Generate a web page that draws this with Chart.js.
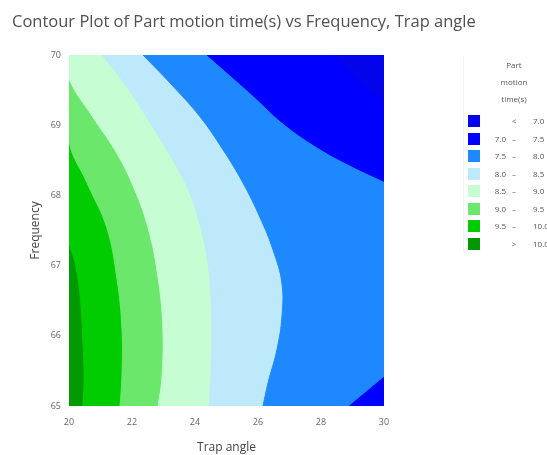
<!DOCTYPE html>
<html>
<head>
<meta charset="utf-8">
<script src="https://cdn.jsdelivr.net/npm/chart.js@4/dist/chart.umd.min.js"></script>
<style>
body { margin: 0; background: #fff; overflow: hidden; }
#wrap { position: relative; width: 547px; height: 455px; }
#legend { position: absolute; left: 463px; top: 56px; width: 84px; height: 196px;
  border-left: 1px solid #f2f2f2; font-family: "Open Sans", sans-serif; font-size: 8px; color: #555; }
#legend .ttl { text-align: center; height: 17px; line-height: 17px; padding-left: 16px; }
#legend .row { position: relative; height: 17.5px; }
#legend .sw { position: absolute; left: 4px; top: 3px; width: 12px; height: 12px; }
#legend .a { position: absolute; left: 0; width: 42px; text-align: right; top: 3px; white-space: nowrap; }
#legend .d { position: absolute; left: 46px; width: 8px; text-align: center; top: 3px; }
#legend .b { position: absolute; left: 69px; top: 3px; white-space: nowrap; }
</style>
</head>
<body>
<div id="wrap">
  <canvas id="contour"></canvas>
  <div id="legend"></div>
</div>
<script>
// contour levels and the colour of each band, from "< 7.0" up to "> 10.0"
const levels = [7.0, 7.5, 8.0, 8.5, 9.0, 9.5, 10.0];
const bandColors = ['#0303EC', '#0000FF', '#1E88FF', '#BDE9FB', '#C6FDD3', '#6BE86B', '#00CC00', '#009A00'];

// contour lines: Frequency (y) and Trap angle (x)
const freq100 = [70, 67.36, 67.05, 66.58, 65.94, 65.37, 65.0];
const angle100 = [20, 20, 20.19, 20.35, 20.44, 20.48, 20.44];

const freq95 = [70, 68.79, 68.18, 67.54, 66.82, 66.11, 65.40, 65.0];
const angle95 = [20, 20, 20.57, 21.2, 21.52, 21.68, 21.68, 21.62];

const freq90 = [70, 69.67, 69.12, 68.65, 68.18, 67.54, 66.82, 66.11, 65.40, 65.0];
const angle90 = [20, 20, 20.75, 21.45, 21.99, 22.51, 22.83, 22.98, 22.95, 22.83];

const freq85 = [70, 69.6, 68.97, 68.5, 68.03, 67.55, 67.08, 66.6, 66.13, 65.6, 65.0];
const angle85 = [21.05, 21.75, 22.67, 23.3, 23.84, 24.18, 24.4, 24.5, 24.54, 24.52, 24.45];

const freq80 = [70, 69.60, 69.12, 68.65, 68.18, 67.69, 67.22, 66.75, 66.27, 65.80, 65.33, 65.0];
const angle80 = [22.35, 23.21, 24.16, 24.89, 25.52, 26.06, 26.48, 26.76, 26.76, 26.60, 26.32, 26.16];

const freq75top = [70, 69.46, 69.03, 68.69, 68.43, 68.2];
const angle75top = [24.38, 25.75, 26.79, 27.87, 28.92, 30.0];

const freq75low = [65.41, 65.0];
const angle75low = [30.0, 28.9];

const freq70 = [70, 69.6, 69.35];
const angle70 = [28.4, 29.3, 30.0];

const xTicks = [20, 22, 24, 26, 28, 30];
const yTicks = [65, 66, 67, 68, 69, 70];

// each line fills to the right edge with the colour of the band below its level
function contourSet(label, freq, angle, color, order) {
  return {
    label: label,
    data: freq.map((f, i) => ({ x: angle[i], y: f })),
    backgroundColor: color,
    borderColor: color,
    borderWidth: 1,
    fill: 'end',
    pointRadius: 0,
    tension: 0.4,
    order: order
  };
}

const datasets = [
  contourSet('> 10.0', [70, 65], [20, 20], bandColors[7], 20),
  contourSet('10.0', freq100, angle100, bandColors[6], 19),
  contourSet('9.5', freq95, angle95, bandColors[5], 18),
  contourSet('9.0', freq90, angle90, bandColors[4], 17),
  contourSet('8.5', freq85, angle85, bandColors[3], 16),
  contourSet('8.0', freq80, angle80, bandColors[2], 15),
  contourSet('7.5', freq75top, angle75top, bandColors[1], 14),
  contourSet('7.5', freq75low, angle75low, bandColors[1], 13),
  contourSet('7.0', freq70, angle70, bandColors[0], 12)
];

const tickFont = { family: 'Open Sans', size: 9 };

new Chart(document.getElementById('contour'), {
  type: 'line',
  data: { datasets: datasets },
  options: {
    responsive: true,
    maintainAspectRatio: false,
    animation: false,
    indexAxis: 'y',
    layout: { padding: { left: 12, right: 0, top: 0, bottom: 0 } },
    plugins: {
      legend: { display: false },
      tooltip: { enabled: false },
      title: {
        display: true,
        text: 'Contour Plot of Part motion time(s) vs Frequency, Trap angle',
        align: 'start',
        color: '#505050',
        font: { family: 'Open Sans', size: 16.5, weight: 'normal' },
        padding: { top: 12, bottom: 23.2 }
      }
    },
    scales: {
      x: {
        type: 'linear',
        min: 20, max: 30,
        afterBuildTicks: s => { s.ticks = xTicks.map(v => ({ value: v })); },
        afterFit: s => { s.height = 49; },
        grid: { display: false, drawTicks: false },
        border: { display: false },
        ticks: { font: tickFont, color: '#666', padding: 11, maxRotation: 0 },
        title: { display: true, text: 'Trap angle', color: '#444',
          font: { family: 'Open Sans', size: 12 }, padding: { top: 0, bottom: 0 } }
      },
      y: {
        type: 'linear',
        min: 65, max: 70,
        afterBuildTicks: s => { s.ticks = yTicks.map(v => ({ value: v })); },
        afterFit: s => { s.width = 57; },
        grid: { display: false, drawTicks: false },
        border: { display: false },
        ticks: { font: tickFont, color: '#666', padding: 8 },
        title: { display: true, text: 'Frequency', color: '#444',
          font: { family: 'Open Sans', size: 12 }, padding: { top: 16, bottom: 0 } }
      },
      // empty axis on the right just keeps room for the legend
      room: {
        type: 'linear',
        position: 'right',
        afterFit: s => { s.width = 163; },
        grid: { display: false, drawTicks: false },
        border: { display: false },
        ticks: { display: false }
      }
    }
  }
});

// legend, listed like the reference: lowest band on top
const legendTitle = ['Part', 'motion', 'time(s)'];
const legendEl = document.getElementById('legend');
legendTitle.forEach(t => {
  const d = document.createElement('div');
  d.className = 'ttl';
  d.textContent = t;
  legendEl.appendChild(d);
});
const spacer = document.createElement('div');
spacer.style.height = '5px';
legendEl.appendChild(spacer);
for (let i = 0; i < bandColors.length; i++) {
  let a = '', d = '', b = '';
  if (i === 0) { d = '<'; b = levels[0].toFixed(1); }
  else if (i === bandColors.length - 1) { d = '>'; b = levels[levels.length - 1].toFixed(1); }
  else { a = levels[i - 1].toFixed(1); d = '–'; b = levels[i].toFixed(1); }
  const row = document.createElement('div');
  row.className = 'row';
  row.innerHTML = '<span class="sw" style="background:' + bandColors[i] + '"></span>' +
    '<span class="a">' + a + '</span><span class="d">' + d + '</span><span class="b">' + b + '</span>';
  legendEl.appendChild(row);
}
</script>
</body>
</html>
